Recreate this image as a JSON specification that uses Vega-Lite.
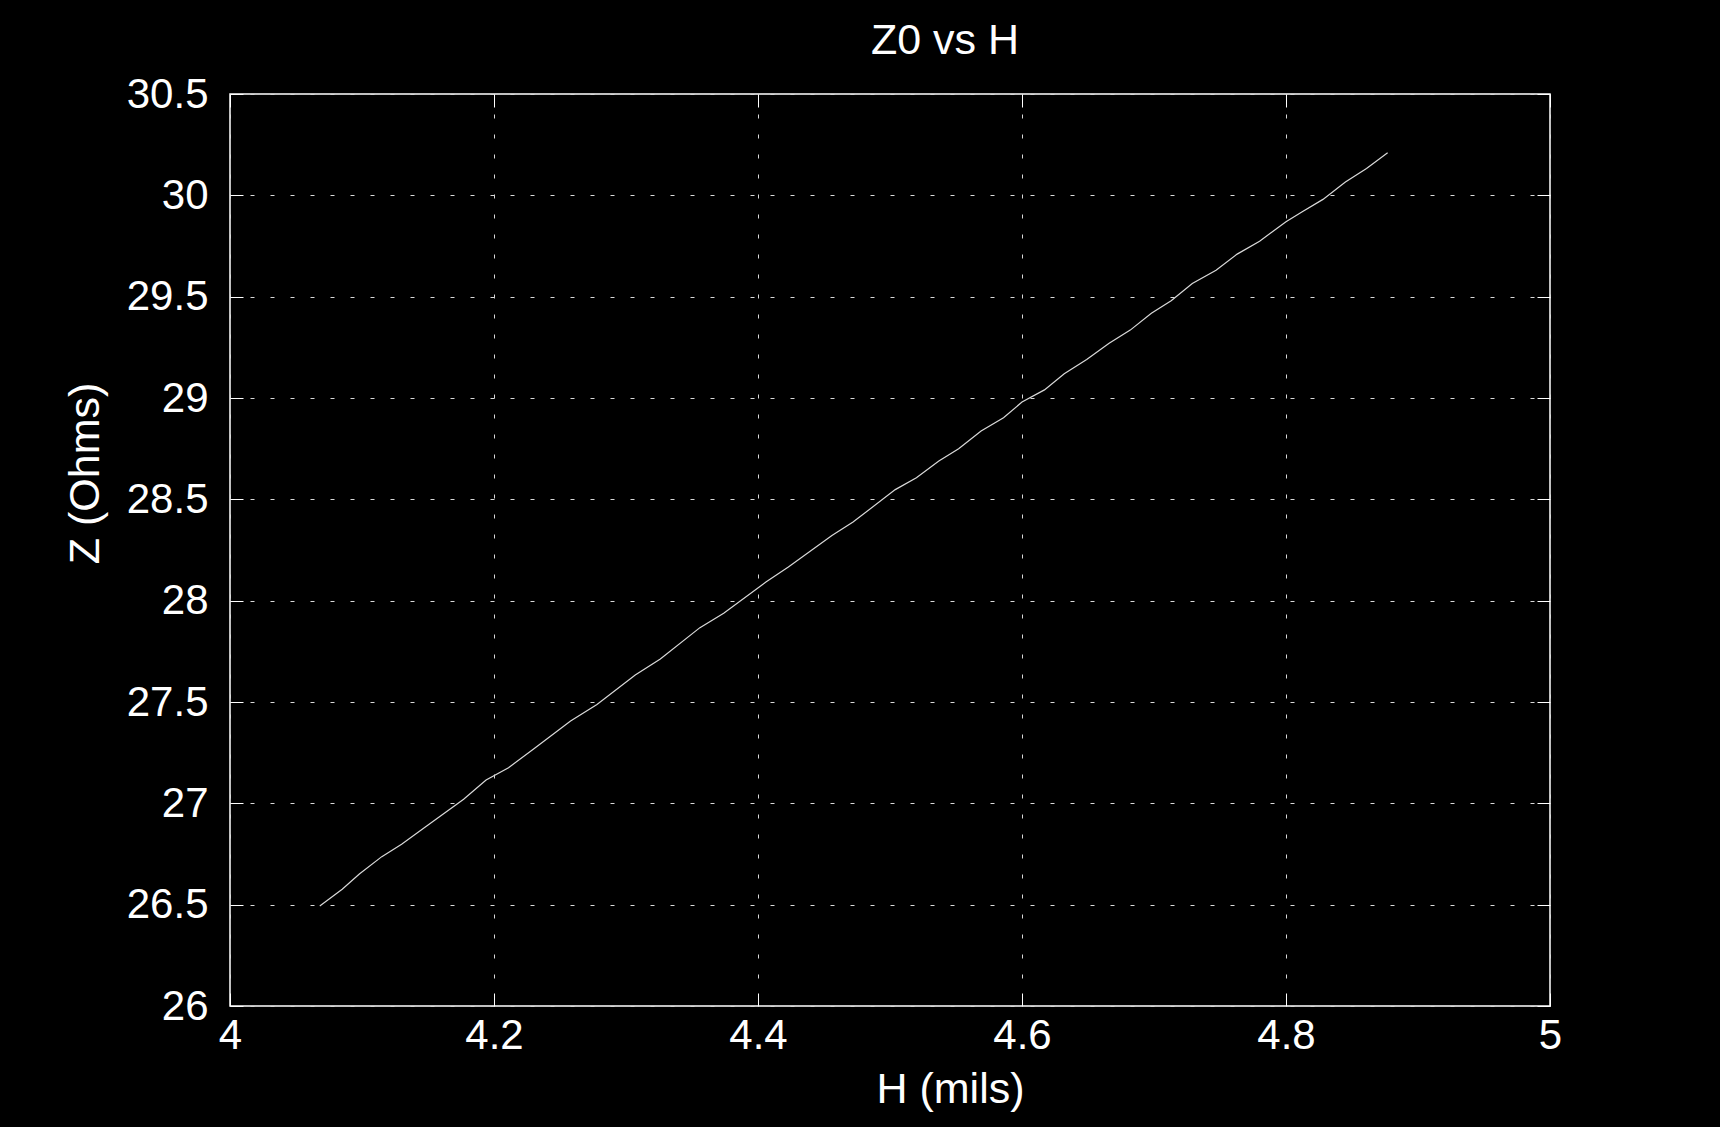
{
  "$schema": "https://vega.github.io/schema/vega-lite/v6.json",
  "width": 1320,
  "height": 912,
  "autosize": {"type": "none"},
  "padding": {"left": 230, "top": 94, "right": 170, "bottom": 121},
  "background": "#000000",
  "title": {
    "text": "Z0 vs H",
    "color": "#ffffff",
    "font": "Liberation Sans",
    "fontSize": 43,
    "fontWeight": "normal",
    "anchor": "middle",
    "frame": "group",
    "dx": 55,
    "baseline": "alphabetic",
    "offset": -24
  },
  "config": {
    "view": {"stroke": "#ffffff", "strokeWidth": 1.5},
    "axis": {
      "labelFont": "Liberation Sans",
      "titleFont": "Liberation Sans",
      "labelColor": "#ffffff",
      "titleColor": "#ffffff",
      "labelFontSize": 42,
      "titleFontSize": 43,
      "titleFontWeight": "normal",
      "domain": false,
      "tickColor": "#ffffff",
      "tickWidth": 1,
      "tickSize": -13,
      "gridColor": "#d8d8d8",
      "gridDash": [4, 16],
      "gridWidth": 1,
      "gridOpacity": 1,
      "labelFlush": false,
      "labelOverlap": false
    }
  },
  "data": {
    "values": [
      {"H": 4.068, "Z": 26.493},
      {"H": 4.085, "Z": 26.576},
      {"H": 4.098, "Z": 26.651},
      {"H": 4.115, "Z": 26.737},
      {"H": 4.130, "Z": 26.798},
      {"H": 4.149, "Z": 26.888},
      {"H": 4.177, "Z": 27.020},
      {"H": 4.194, "Z": 27.115},
      {"H": 4.211, "Z": 27.176},
      {"H": 4.230, "Z": 27.268},
      {"H": 4.258, "Z": 27.406},
      {"H": 4.278, "Z": 27.488},
      {"H": 4.307, "Z": 27.633},
      {"H": 4.326, "Z": 27.712},
      {"H": 4.356, "Z": 27.867},
      {"H": 4.374, "Z": 27.938},
      {"H": 4.406, "Z": 28.092},
      {"H": 4.423, "Z": 28.166},
      {"H": 4.456, "Z": 28.322},
      {"H": 4.472, "Z": 28.388},
      {"H": 4.504, "Z": 28.548},
      {"H": 4.520, "Z": 28.607},
      {"H": 4.537, "Z": 28.689},
      {"H": 4.552, "Z": 28.750},
      {"H": 4.569, "Z": 28.837},
      {"H": 4.586, "Z": 28.903},
      {"H": 4.600, "Z": 28.980},
      {"H": 4.617, "Z": 29.040},
      {"H": 4.632, "Z": 29.120},
      {"H": 4.649, "Z": 29.190},
      {"H": 4.666, "Z": 29.270},
      {"H": 4.682, "Z": 29.335},
      {"H": 4.698, "Z": 29.418},
      {"H": 4.713, "Z": 29.480},
      {"H": 4.729, "Z": 29.565},
      {"H": 4.747, "Z": 29.630},
      {"H": 4.763, "Z": 29.710},
      {"H": 4.780, "Z": 29.773},
      {"H": 4.800, "Z": 29.870},
      {"H": 4.812, "Z": 29.918},
      {"H": 4.828, "Z": 29.980},
      {"H": 4.845, "Z": 30.066},
      {"H": 4.861, "Z": 30.132},
      {"H": 4.877, "Z": 30.210}
    ]
  },
  "layer": [
    {
      "mark": {"type": "line", "color": "#d9d9d9", "strokeWidth": 1.2},
      "encoding": {
        "x": {
          "field": "H", "type": "quantitative",
          "scale": {"domain": [4, 5], "nice": false, "zero": false},
          "axis": {
            "orient": "bottom",
            "title": "H (mils)",
            "values": [4, 4.2, 4.4, 4.6, 4.8, 5],
            "format": "~g",
            "labelBaseline": "top",
            "labelPadding": 22,
            "titleX": 720,
            "titleY": 96,
            "titleBaseline": "alphabetic",
            "titleAnchor": null,
            "titleAlign": "center"
          }
        },
        "y": {
          "field": "Z", "type": "quantitative",
          "scale": {"domain": [26, 30.5], "nice": false, "zero": false},
          "axis": {
            "orient": "left",
            "title": "Z (Ohms)",
            "values": [26, 26.5, 27, 27.5, 28, 28.5, 29, 29.5, 30, 30.5],
            "format": "~g",
            "labelPadding": 35,
            "titleX": -145,
            "titleY": 379,
            "titleAngle": -90,
            "titleBaseline": "middle",
            "titleAlign": "center"
          }
        }
      }
    },
    {
      "mark": {"type": "line", "strokeOpacity": 0},
      "encoding": {
        "x": {
          "field": "H", "type": "quantitative",
          "axis": {"orient": "top", "title": null, "labels": false, "grid": false, "values": [4, 4.2, 4.4, 4.6, 4.8, 5]}
        },
        "y": {
          "field": "Z", "type": "quantitative",
          "axis": {"orient": "right", "title": null, "labels": false, "grid": false, "values": [26, 26.5, 27, 27.5, 28, 28.5, 29, 29.5, 30, 30.5]}
        }
      }
    }
  ],
  "resolve": {"axis": {"x": "independent", "y": "independent"}}
}
